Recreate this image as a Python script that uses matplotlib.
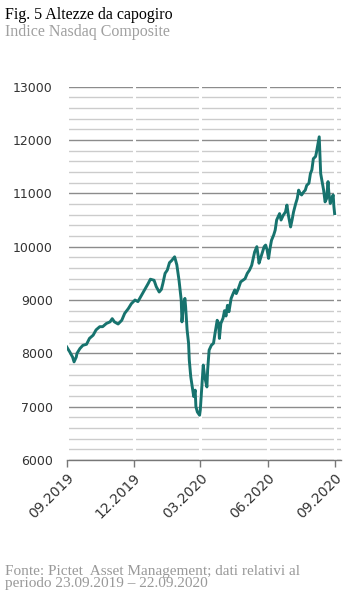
# -*- coding: utf-8 -*-
# Fig. 5 - Indice Nasdaq Composite, 23.09.2019 - 22.09.2020
import numpy as np
import pandas as pd
import matplotlib
matplotlib.use('Agg')
from matplotlib import pyplot as plt
from matplotlib.ticker import MultipleLocator

# valori
date = ['2019-09-23', '2019-09-27', '2019-10-01', '2019-10-03', '2019-10-06', '2019-10-07',
        '2019-10-11', '2019-10-15', '2019-10-20', '2019-10-24', '2019-10-29', '2019-11-02',
        '2019-11-07', '2019-11-11', '2019-11-16', '2019-11-21', '2019-11-24', '2019-11-27',
        '2019-12-02', '2019-12-07', '2019-12-11', '2019-12-16', '2019-12-20', '2019-12-25',
        '2019-12-29', '2020-01-03', '2020-01-07', '2020-01-12', '2020-01-15', '2020-01-20',
        '2020-01-23', '2020-01-27', '2020-01-30', '2020-02-01', '2020-02-04', '2020-02-07',
        '2020-02-10', '2020-02-13', '2020-02-17', '2020-02-20', '2020-02-23', '2020-02-26',
        '2020-02-27', '2020-02-29', '2020-03-02', '2020-03-03', '2020-03-05', '2020-03-07',
        '2020-03-08', '2020-03-10', '2020-03-12', '2020-03-14', '2020-03-16', '2020-03-17',
        '2020-03-19', '2020-03-22', '2020-03-23', '2020-03-25', '2020-03-27', '2020-03-29',
        '2020-04-01', '2020-04-02', '2020-04-04', '2020-04-07', '2020-04-10', '2020-04-12',
        '2020-04-15', '2020-04-17', '2020-04-18', '2020-04-20', '2020-04-23', '2020-04-25',
        '2020-04-27', '2020-04-29', '2020-05-01', '2020-05-04', '2020-05-07', '2020-05-09',
        '2020-05-11', '2020-05-14', '2020-05-17', '2020-05-20', '2020-05-23', '2020-05-26',
        '2020-05-29', '2020-06-01', '2020-06-03', '2020-06-05', '2020-06-08', '2020-06-10',
        '2020-06-11', '2020-06-13', '2020-06-15', '2020-06-18', '2020-06-20', '2020-06-22',
        '2020-06-24', '2020-06-26', '2020-06-28', '2020-07-01', '2020-07-03', '2020-07-05',
        '2020-07-09', '2020-07-11', '2020-07-14', '2020-07-17', '2020-07-19', '2020-07-21',
        '2020-07-24', '2020-07-26', '2020-07-28', '2020-07-31', '2020-08-02', '2020-08-04',
        '2020-08-06', '2020-08-08', '2020-08-11', '2020-08-13', '2020-08-15', '2020-08-18',
        '2020-08-20', '2020-08-22', '2020-08-24', '2020-08-27', '2020-08-28', '2020-08-30',
        '2020-09-01', '2020-09-02', '2020-09-03', '2020-09-05', '2020-09-07', '2020-09-09',
        '2020-09-11', '2020-09-13', '2020-09-14', '2020-09-16', '2020-09-18', '2020-09-20',
        '2020-09-21', '2020-09-22']
nasdaq = [8120, 8030, 7930, 7840, 7930, 8000,
          8090, 8150, 8170, 8280, 8340, 8440,
          8500, 8500, 8560, 8590, 8650, 8590,
          8550, 8620, 8750, 8840, 8930, 9000,
          8970, 9090, 9190, 9310, 9390, 9370,
          9250, 9150, 9200, 9310, 9500, 9560,
          9700, 9740, 9810, 9660, 9370, 9000,
          8590, 8900, 9030, 8870, 8440, 8190,
          7870, 7560, 7370, 7190, 7310, 7000,
          6900, 6840, 6940, 7370, 7780, 7560,
          7370, 7690, 8060, 8150, 8190, 8370,
          8620, 8560, 8280, 8560, 8660, 8800,
          8700, 8900, 8780, 9030, 9130, 9190,
          9120, 9220, 9340, 9370, 9400, 9500,
          9560, 9650, 9780, 9900, 10000, 9810,
          9690, 9780, 9870, 10000, 10030, 9940,
          9780, 9970, 10120, 10220, 10310, 10500,
          10620, 10500, 10590, 10650, 10780, 10590,
          10370, 10500, 10650, 10810, 10900, 11060,
          11000, 10970, 11030, 11060, 11150, 11190,
          11370, 11440, 11650, 11690, 11750, 11900,
          12060, 11690, 11370, 11220, 11060, 10840,
          10900, 11220, 11030, 10810, 10900, 10970,
          10750, 10620]

xtick_date = ['2019-09-23', '2019-12-23', '2020-03-23', '2020-06-23', '2020-09-22']
xtick_lab = ['09.2019', '12.2019', '03.2020', '06.2020', '09.2020']

titolo = 'Fig. 5 Altezze da capogiro'
sottotitolo = 'Indice Nasdaq Composite'
fonte = u'Fonte: Pictet  Asset Management; dati relativi al\nperiodo 23.09.2019 \u2013 22.09.2020'

datam = pd.to_datetime(date)
xt = pd.to_datetime(xtick_date)

plt.close('all')
fig = plt.figure(figsize=(3.53, 5.95), dpi=100)
ax = fig.add_axes([0.189, 0.2269, 0.7756, 0.6274])

ax.set_axisbelow(True)
ax.yaxis.set_major_locator(MultipleLocator(1000))
ax.yaxis.set_minor_locator(MultipleLocator(200))
ax.grid(axis='y', which='major', color='#8c8c8c', lw=1.0)
ax.grid(axis='y', which='minor', color='#cccccc', lw=1.0)

# interruzioni bianche della griglia in corrispondenza delle date
for t in xt:
    ax.axvline(t, color='white', lw=2.2, zorder=1)

ax.plot(datam, nasdaq, color='#17736e', lw=2.1, zorder=3, solid_joinstyle='round')

ax.set_ylim(6000, 13000)
ax.set_xlim(pd.Timestamp('2019-09-23'), pd.Timestamp('2020-09-30'))

for s in ['top', 'right', 'left']:
    ax.spines[s].set_visible(False)
ax.spines['bottom'].set_color('#777777')
ax.spines['bottom'].set_linewidth(1.0)

ax.set_xticks(xt)
ax.set_xticklabels(xtick_lab, rotation=45, ha='right', va='top', rotation_mode='anchor')
ax.tick_params(axis='x', length=5, width=1, color='#777777', pad=3,
               labelsize=10, labelcolor='#333333')
ax.tick_params(axis='y', which='both', length=0, pad=10, labelsize=9, labelcolor='#333333')

fig.text(0.014, 0.975, titolo, family='Liberation Serif', fontsize=11.5, color='black',
         va='center', ha='left')
fig.text(0.014, 0.946, sottotitolo, family='Liberation Serif', fontsize=11.5, color='#a0a0a0',
         va='center', ha='left')
fig.text(0.014, 0.008, fonte, family='Liberation Serif', fontsize=11, color='#999999',
         va='bottom', ha='left', linespacing=0.92)

fig.savefig('out.png', dpi=100)
